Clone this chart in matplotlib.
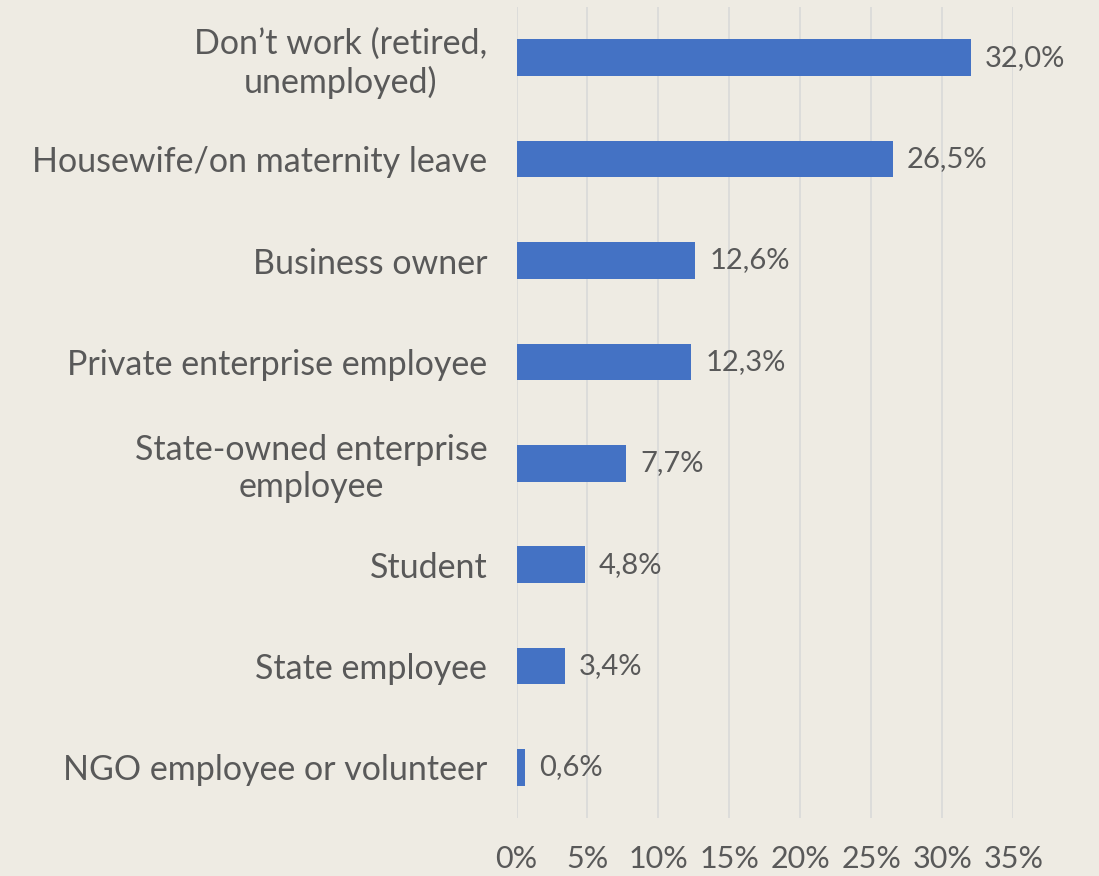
import matplotlib
matplotlib.use("Agg")
import matplotlib.pyplot as plt
from matplotlib.ticker import FuncFormatter

# occupation categories, top to bottom
categories = [
    "Don\u2019t work (retired,\nunemployed)",
    "Housewife/on maternity leave",
    "Business owner",
    "Private enterprise employee",
    "State-owned enterprise\nemployee",
    "Student",
    "State employee",
    "NGO employee or volunteer",
]
shares = [32.0, 26.5, 12.6, 12.3, 7.7, 4.8, 3.4, 0.6]
xticks = [0, 5, 10, 15, 20, 25, 30, 35]

bg = "#EEEBE3"
bar_color = "#4472C4"
text_color = "#595959"

plt.rcParams["font.family"] = ["Lato", "DejaVu Sans"]

fig = plt.figure(figsize=(10.99, 8.76), dpi=100, facecolor=bg)
ax = fig.add_axes([0.470, 0.066, 0.452, 0.926], facecolor=bg)

ypos = list(range(len(categories)))
ax.barh(ypos, shares, height=0.36, color=bar_color, zorder=3)

for y, v in zip(ypos, shares):
    ax.text(v + 1.0, y, ("%.1f%%" % v).replace(".", ","), va="center", ha="left",
            fontsize=21, color=text_color)

ax.set_ylim(len(categories) - 0.5, -0.5)
ax.set_xlim(0, 35)
ax.set_xticks(xticks)
ax.xaxis.set_major_formatter(FuncFormatter(lambda x, p: "%d%%" % x))
ax.set_yticks(ypos)
ax.set_yticklabels(categories, fontsize=24.5, color=text_color,
                   multialignment="center", linespacing=1.2)

ax.grid(axis="x", color="#D9D9D9", linewidth=1.2, zorder=0)
for s in ax.spines.values():
    s.set_visible(False)
ax.tick_params(axis="both", length=0)
ax.tick_params(axis="x", pad=19, labelsize=22, labelcolor=text_color)
ax.tick_params(axis="y", pad=21)

fig.savefig("out.png", dpi=100, facecolor=bg)
